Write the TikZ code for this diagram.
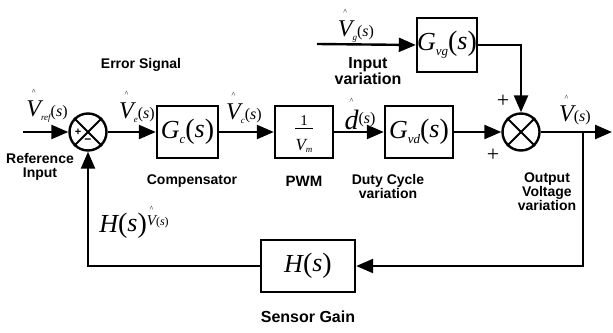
\documentclass[tikz,border=0pt]{standalone}
\usepackage{fontspec}
\setmainfont{Liberation Sans}
\newfontfamily\tms{Liberation Serif}
\usetikzlibrary{arrows.meta}

% italic serif pieces used in the signal labels
\newcommand\fs[1]{\fontsize{#1}{#1}\selectfont}
\newcommand\ita[2]{{\tms\itshape\fs{#1}#2}}
% a small caret set high above a box
\newcommand\hatted[2]{{\setbox0\hbox{#2}\rlap{\hbox to \wd0{\hss\raisebox{\dimexpr\ht0+#1\relax}{\tms\fs{8}\textasciicircum}\hss}}\box0}}
% signal name with hat, subscript and (s)
\newcommand\sig[2]{\hatted{6pt}{\ita{24}{V}}\raisebox{-4pt}{\ita{9}{#1}}{\tms\fs{16}(\itshape s\/\upshape)}}
% transfer function G_x(s)
\newcommand\tf[2]{\ita{26}{#1}\raisebox{-5pt}{\ita{13}{#2}}{\tms\fs{28}(\raisebox{1pt}{\itshape\fs{26}s\/}\upshape)}}

\tikzset{
  blk/.style={draw, line width=2.4pt, minimum height=52pt, inner sep=0pt},
  sumj/.style={draw, circle, line width=2.4pt, minimum size=37pt, inner sep=0pt},
  wire/.style={line width=2.4pt},
  arr/.style={wire, -{Triangle[length=17pt,width=14pt]}},
  lbl/.style={font=\fs{14}\bfseries, align=center, inner sep=0pt},
  mth/.style={inner sep=0pt}
}

\begin{document}
\begin{tikzpicture}[x=1pt,y=-1pt]
\useasboundingbox (0,0) rectangle (613,332);

% summing junctions
\node[sumj] (sum1) at (88,132) {};
\node[sumj] (sum2) at (521,132) {};
\foreach \s in {sum1,sum2}{
  \draw[wire,line width=2pt] (\s.north east) -- (\s.south west);
  \draw[wire,line width=2pt] (\s.north west) -- (\s.south east);
}

% blocks
\node[blk, minimum width=61pt] (Gc)  at (187.5,132) {\tf{G}{c}};
\node[blk, minimum width=58pt] (PWM) at (304,132) {};
\node[mth] (pnum) at (304,121) {\tms\fs{15}1};
\node[mth] (pden) at (304,146) {\ita{17}{V}\raisebox{-2pt}{\ita{9}{m}}};
\draw[line width=0.5pt] (pnum.south west) ++(-5,2) coordinate (fl) -- (fl -| pnum.south east) -- ++(5,0);
\node[blk, minimum width=68pt] (Gvd) at (419,132) {\tf{G}{vd}};
\node[blk, minimum width=60pt, minimum height=54pt] (Gvg) at (447,45) {\tf{G}{vg}};
\node[blk, minimum width=94pt] (H)   at (308,266)
  {\ita{26}{H}{\tms\fs{28}(\raisebox{1pt}{\itshape\fs{26}s\/}\upshape)}};

% free ends
\coordinate (vin)  at (23,132);
\coordinate (vgin) at (317,44);
\coordinate (vout) at (612,132);
\coordinate (br)   at (583,132);

% forward path
\draw[arr] (vin) -- (sum1.west);
\draw[arr] (sum1.east) -- (Gc.west);
\draw[arr] (Gc.east) -- (PWM.west);
\draw[arr] (PWM.east) -- (Gvd.west);
\draw[arr] (Gvd.east) -- (sum2.west);
\draw[arr] (sum2.east) -- (vout);

% line disturbance path
\draw[arr] (vgin) -- (Gvg.west);
\draw[arr] (Gvg.east) -| (sum2.north);

% feedback path
\draw[arr] (br) |- (H.east);
\draw[arr] (H.west) -| (sum1.south);

% signs
\node[mth, font=\bfseries\fs{11}] at (78,132) {+};
\node[mth, font=\bfseries\fs{12}] at (88,141) {\textminus};
\node[mth, font=\tms\fs{22}] at (503,101) {+};
\node[mth, font=\tms\fs{22}] at (493,155) {+};

% signal labels
\node[mth] (lref) at (47,106) {\sig{ref}{}};
\node[mth] (le)   at (137,107) {\sig{e}{}};
\node[mth] (lc)   at (244,108) {\sig{c}{}};
\node[mth] (lg)   at (356,26) {\sig{g}{}};
\node[mth] (ld)   at (360,114) {\hatted{7pt}{\ita{28}{d}}\raisebox{6pt}{\tms\fs{16}(\itshape s\/\upshape)}};
\node[mth] (lv)   at (575,110) {\hatted{6pt}{\ita{24}{V}}{\tms\fs{16}(\itshape s\/\upshape)}};
\node[mth] (lhv)  at (134,222) {\ita{26}{H}{\tms\fs{28}(\raisebox{1pt}{\itshape\fs{26}s\/}\upshape)}\raisebox{7pt}{\hatted{4pt}{\ita{15}{V}}{\tms\fs{12}(\itshape s\/\upshape)}}};

% descriptive captions
\node[lbl] (terr)  at (141,65)  {Error Signal};
\node[lbl] (tref)  at (40,167)  {Reference\\Input};
\node[lbl] (tcomp) at (192,181) {Compensator};
\node[lbl, font=\fs{15}\bfseries] (tpwm) at (304,181) {PWM};
\node[lbl] (tduty) at (388,186) {Duty Cycle\\variation};
\node[lbl, font=\fs{16}\bfseries] (tin) at (368,71) {Input\\variation};
\node[lbl] (tout)  at (547,192) {Output\\Voltage\\variation};
\node[lbl, font=\fs{16}\bfseries] (tsen) at (308,317) {Sensor Gain};
\end{tikzpicture}
\end{document}
